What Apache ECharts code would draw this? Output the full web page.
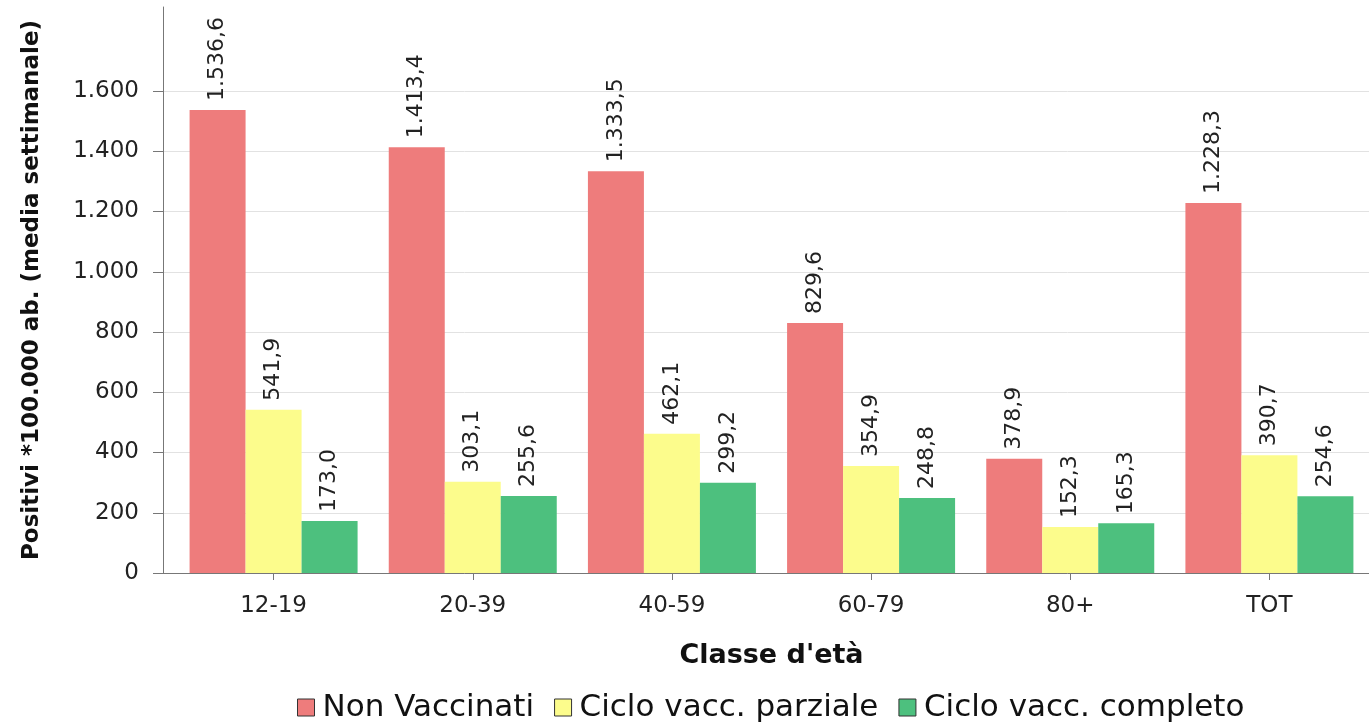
<!DOCTYPE html>
<html>
<head>
<meta charset="utf-8">
<script src="https://cdn.jsdelivr.net/npm/echarts@6/dist/echarts.min.js"></script>
<style>html,body{margin:0;padding:0;background:#fff}#c{width:1369px;height:725px}</style>
</head>
<body>
<div id="c"></div>
<script>
const categories = ['12-19', '20-39', '40-59', '60-79', '80+', 'TOT'];
const seriesNames = ['Non Vaccinati', 'Ciclo vacc. parziale', 'Ciclo vacc. completo'];
const nonVaccinati = [1536.6, 1413.4, 1333.5, 829.6, 378.9, 1228.3];
const cicloParziale = [541.9, 303.1, 462.1, 354.9, 152.3, 390.7];
const cicloCompleto = [173.0, 255.6, 299.2, 248.8, 165.3, 254.6];
const yTicks = [0, 200, 400, 600, 800, 1000, 1200, 1400, 1600];
const colors = ['#EE7C7C', '#FCFC8C', '#4DC07E'];

const FONT = 'DejaVu Sans';
function itNum(v, dec) {
  const parts = v.toFixed(dec).split('.');
  parts[0] = parts[0].replace(/\B(?=(\d{3})+(?!\d))/g, '.');
  return parts.join(',');
}
const yMaxTick = yTicks[yTicks.length - 1];
const yInterval = yTicks[1] - yTicks[0];
const topPx = 7, zeroPx = 573, tickTopPx = 91;
const extMax = yMaxTick * (zeroPx - topPx) / (zeroPx - tickTopPx);

const chart = echarts.init(document.getElementById('c'));
const dataSets = [nonVaccinati, cicloParziale, cicloCompleto];
chart.setOption({
  animation: false,
  textStyle: { fontFamily: FONT },
  grid: [
    { left: 163, right: 0, top: tickTopPx, bottom: 725 - zeroPx },
    { left: 174, width: 1200, top: topPx, bottom: 725 - zeroPx }
  ],
  xAxis: [
    { gridIndex: 0, type: 'value', min: 0, max: 1, show: true,
      axisLine: { show: true, lineStyle: { color: '#777', width: 1 } },
      axisTick: { show: false }, axisLabel: { show: false }, splitLine: { show: false } },
    { gridIndex: 1, type: 'category', data: categories,
      axisLine: { show: false },
      axisTick: { show: true, alignWithLabel: true, length: 7, lineStyle: { color: '#777' } },
      axisLabel: { color: '#222', fontSize: 23, margin: 22, fontFamily: FONT },
      name: "Classe d'età", nameLocation: 'middle', nameGap: 69,
      nameTextStyle: { fontSize: 27, fontWeight: 'bold', color: '#111', fontFamily: FONT } }
  ],
  yAxis: [
    { gridIndex: 0, type: 'value', min: 0, max: yMaxTick, interval: yInterval,
      axisLine: { show: false },
      axisTick: { show: true, length: 10, lineStyle: { color: '#777' } },
      axisLabel: { color: '#222', fontSize: 23, margin: 24, fontFamily: FONT,
        formatter: v => itNum(v, 0) },
      splitLine: { show: true, lineStyle: { color: '#e2e2e2', width: 1 } } },
    { gridIndex: 1, type: 'value', min: 0, max: extMax, offset: 11,
      axisLine: { show: true, lineStyle: { color: '#777', width: 1 } },
      axisTick: { show: false }, axisLabel: { show: false }, splitLine: { show: false },
      name: 'Positivi *100.000 ab. (media settimanale)', nameLocation: 'middle', nameGap: 119,
      nameTextStyle: { fontSize: 23, fontWeight: 'bold', color: '#111', fontFamily: FONT } }
  ],
  legend: {
    top: 687, left: 292,
    icon: 'rect', itemWidth: 17, itemHeight: 17, itemGap: 20,
    textStyle: { fontSize: 31, color: '#111', fontFamily: FONT, padding: [0, 0, 0, 3] },
    data: seriesNames.map((n, i) => ({ name: n, itemStyle: { color: colors[i], borderColor: '#333', borderWidth: 1 } }))
  },
  series: [
    { type: 'line', xAxisIndex: 0, yAxisIndex: 0, data: [], silent: true },
  ].concat(seriesNames.map((n, i) => ({
    name: n, type: 'bar', xAxisIndex: 1, yAxisIndex: 1,
    data: dataSets[i], barWidth: 56, barGap: '0%',
    itemStyle: { color: colors[i] },
    label: { show: true, position: 'top', rotate: 90, distance: 9, align: 'left', verticalAlign: 'middle',
      fontSize: 22, color: '#222', fontFamily: FONT, formatter: p => itNum(p.value, 1) },
    emphasis: { disabled: true }
  })))
});
</script>
</body>
</html>
